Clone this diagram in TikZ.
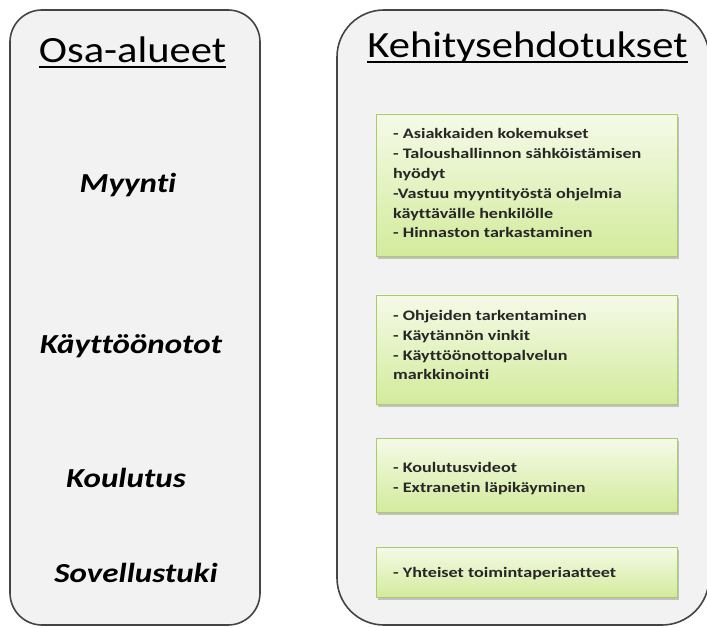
\documentclass[tikz,border=0pt]{standalone}
\usepackage{fontspec}
\setmainfont{Carlito}
\newfontfamily\titlefont[FakeStretch=1.15,Ligatures=NoCommon]{Carlito}
\newfontfamily\labfont[FakeStretch=1.2,Ligatures=NoCommon]{Carlito}
\newfontfamily\boxfont[FakeStretch=1.25,Ligatures=NoCommon]{Carlito}
\usetikzlibrary{shadows}
\definecolor{panelfill}{HTML}{F2F2F2}
\definecolor{paneldraw}{HTML}{444444}
\definecolor{gtop}{HTML}{F5FAE8}
\definecolor{gbot}{HTML}{D3EB9C}
\definecolor{gdraw}{HTML}{A8CC6C}
\tikzset{
  panel/.style={draw=paneldraw, line width=1.6pt, fill=panelfill},
  greenbox/.style={draw=gdraw, line width=0.8pt, top color=gtop, bottom color=gbot,
    drop shadow={shadow xshift=1.5pt, shadow yshift=-3pt, opacity=0.35, fill=black!60}},
  titletext/.style={inner sep=0pt, anchor=base, font=\titlefont\fontsize{37}{40}\selectfont},
  labtext/.style={inner sep=0pt, anchor=base, font=\labfont\bfseries\itshape\fontsize{27.5}{30}\selectfont},
  boxtext/.style={inner sep=0pt, anchor=base west, align=left, font=\boxfont\bfseries\fontsize{14.5}{19.8}\selectfont, text=black!85},
  uline/.style={line width=2.8pt}
}
\begin{document}
\begin{tikzpicture}[x=1pt,y=-1pt]
\useasboundingbox (0,0) rectangle (707,628);
% panels
\draw[panel, rounded corners=32pt] (10,10) rectangle (260,625);
\draw[panel, rounded corners=47pt] (337,10) rectangle (709,625);
% titles
\node[titletext] (t1) at (132.5,63) {Osa-alueet};
\draw[uline] ([yshift=-4pt]t1.base west) -- ([yshift=-4pt]t1.base east);
\node[titletext] (t2) at (527.5,58) {Kehitysehdotukset};
\draw[uline] ([yshift=-4pt]t2.base west) -- ([yshift=-4pt]t2.base east);
% left labels
\node[labtext] (l1) at (128,193) {Myynti};
\node[labtext] (l2) at (131,354) {Käyttöönotot};
\node[labtext] (l3) at (126,487) {Koulutus};
\node[labtext] (l4) at (136,582) {Sovellustuki};
% green boxes
\path[greenbox] (376,114) rectangle (677,256);
\path[greenbox] (376,295) rectangle (677,404);
\path[greenbox] (376,438) rectangle (677,512);
\path[greenbox] (376,547) rectangle (677,597);
% texts (anchored at the baseline of their last line)
\node[boxtext] (b1) at (393,238) {- Asiakkaiden kokemukset\\- Taloushallinnon sähköistämisen\\hyödyt\\-Vastuu myyntityöstä ohjelmia\\käyttävälle henkilölle\\- Hinnaston tarkastaminen};
\node[boxtext] (b2) at (393,380) {- Ohjeiden tarkentaminen\\- Käytännön vinkit\\- Käyttöönottopalvelun\\markkinointi};
\node[boxtext] (b3) at (393,492) {- Koulutusvideot\\- Extranetin läpikäyminen};
\node[boxtext] (b4) at (393,577) {- Yhteiset toimintaperiaatteet};
\end{tikzpicture}
\end{document}
